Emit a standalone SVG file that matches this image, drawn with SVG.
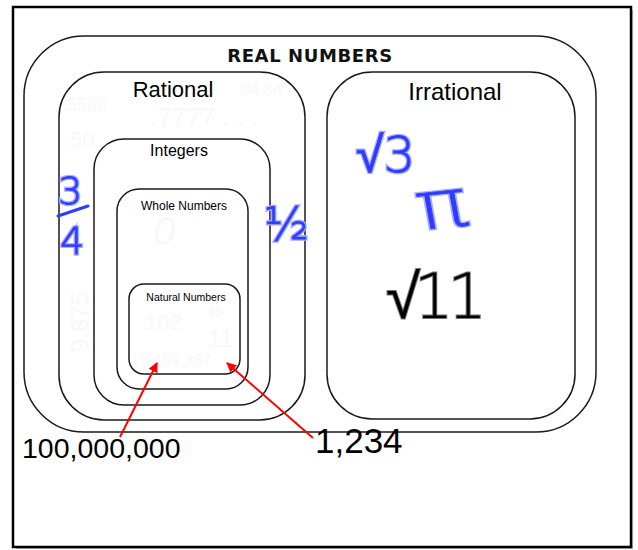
<svg xmlns="http://www.w3.org/2000/svg" width="638" height="550" viewBox="0 0 638 550">
<style>
.set{fill:none;stroke:#1a1a1a;stroke-width:1.5}
.lbl{font-family:"Liberation Sans",Arial,sans-serif;fill:#000}
.faint{font-family:"Liberation Sans",Arial,sans-serif;fill:#f8f8fb}
.ink{font-family:"DejaVu Sans","Liberation Sans",sans-serif;font-weight:200;fill:#2f3cff;stroke:#2f3cff;stroke-width:0.8}
.halo{font-family:"DejaVu Sans","Liberation Sans",sans-serif;font-weight:200;fill:none;stroke:#aab0ff;stroke-width:3.5}
.red{stroke:#ff0000;stroke-width:2;fill:none}
</style>
<defs>
<marker id="ah" viewBox="0 0 10 10" refX="9" refY="5" markerWidth="5" markerHeight="5" orient="auto">
<path d="M0,0 L10,5 L0,10 z" fill="#ff0000"/>
</marker>
</defs>
<rect x="0" y="0" width="638" height="550" fill="#fff"/>
<rect x="16" y="10" width="617" height="539" fill="#bbb"/>
<rect x="13" y="7" width="618" height="540" fill="#fff" stroke="#000" stroke-width="2.5"/>

<g id="real">
<rect class="set" x="24" y="36" width="572" height="396" rx="60" ry="60"/>
<text x="310" y="62" text-anchor="middle" font-family="'DejaVu Sans',sans-serif" font-weight="bold" font-size="18" letter-spacing="0.6" fill="#111">REAL NUMBERS</text>
</g>
<g id="rational">
<rect class="set" x="59" y="72" width="246" height="348" rx="45" ry="45"/>
<text class="lbl" x="173" y="97" text-anchor="middle" font-size="22">Rational</text>
<text class="faint" x="62" y="111" font-size="18">.5566</text>
<text class="faint" x="240" y="95" font-size="17">84.84</text>
<text class="faint" x="150" y="126" font-size="26">.7777 . . .</text>
<text class="faint" x="64" y="147" font-size="22">.50</text>
<text class="faint" transform="translate(88,352) rotate(-90)" font-size="24">9.875</text>
</g>
<g id="irrational">
<rect class="set" x="327" y="72" width="248" height="347" rx="45" ry="45"/>
<text class="lbl" x="455" y="100" text-anchor="middle" font-size="24">Irrational</text>
</g>
<g id="integers">
<rect class="set" x="94" y="139" width="176" height="266" rx="30" ry="30"/>
<text class="lbl" x="179" y="156" text-anchor="middle" font-size="16">Integers</text>
</g>
<g id="whole">
<rect class="set" x="117" y="189" width="131" height="200" rx="22" ry="22"/>
<text class="lbl" x="184" y="210" text-anchor="middle" font-size="12">Whole Numbers</text>
<text class="faint" x="153" y="245" font-size="40" font-style="italic">0</text>
</g>
<g id="natural">
<rect class="set" x="129" y="284" width="111" height="90" rx="15" ry="15"/>
<text class="lbl" x="186" y="301" text-anchor="middle" font-size="10.5">Natural Numbers</text>
<text x="208" y="316" font-family="'Liberation Sans',sans-serif" font-size="13" fill="#fbf3f3">25</text>
<text class="faint" x="145" y="330" font-size="22">102</text>
<text class="faint" x="208" y="347" font-size="24">11</text>
<text class="faint" x="131" y="366" font-size="16">10,459,387</text>
</g>

<g id="handwriting">
<text class="halo" x="356" y="172" font-size="50">√3</text>
<text class="ink" x="356" y="172" font-size="50">√3</text>
<g transform="translate(420,230) scale(1.3,1) rotate(-8)">
<text class="halo" x="0" y="0" font-size="66">π</text>
<text class="ink" x="0" y="0" font-size="66">π</text>
</g>
<text x="386" y="318" font-family="'DejaVu Sans',sans-serif" font-weight="200" font-size="62" letter-spacing="-6" fill="#000" stroke="#777" stroke-width="2" paint-order="stroke">√11</text>
<text class="halo" x="58" y="204" font-size="38">3</text>
<text class="ink" x="58" y="204" font-size="38">3</text>
<line x1="58" y1="216" x2="88" y2="206" stroke="#2f3cff" stroke-width="3" stroke-linecap="round"/>
<text class="halo" x="60" y="254" font-size="38">4</text>
<text class="ink" x="60" y="254" font-size="38">4</text>
<text class="halo" x="264" y="240" font-size="46">½</text>
<text class="ink" x="264" y="240" font-size="46">½</text>
</g>

<g id="connectors">
<line class="red" x1="120" y1="437" x2="157" y2="363" marker-end="url(#ah)"/>
<line class="red" x1="313" y1="438" x2="227" y2="363" marker-end="url(#ah)"/>
</g>
<g id="labels">
<text class="lbl" x="22" y="458" font-size="28.5">100,000,000</text>
<text class="lbl" x="315" y="453" font-size="35">1,234</text>
</g>
</svg>
